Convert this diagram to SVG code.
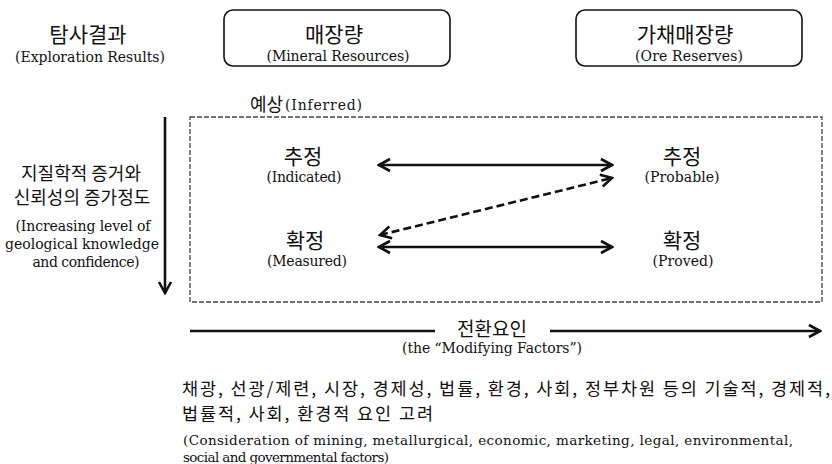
<svg xmlns="http://www.w3.org/2000/svg" width="832" height="464" viewBox="0 0 832 464">
<style>
  text { font-family: "DejaVu Serif", "Noto Sans CJK KR", serif; fill: #111; }
  .ko { font-family: "Noto Sans CJK KR", "DejaVu Serif", sans-serif; }
  .t21 { font-size: 21px; }
  .t18 { font-size: 18px; }
  .tb { font-size: 17.5px; }
  .en { font-size: 14px; }
  .en2 { font-size: 13.5px; }
  .mid { text-anchor: middle; }
  .box { fill: #fff; stroke: #111; stroke-width: 1.6; }
  .frame { fill: none; stroke: #444; stroke-width: 1.3; stroke-dasharray: 5 2; }
  .conn { stroke: #111; stroke-width: 2.6; fill: none; }
  .dash { stroke-dasharray: 8 4; }
</style>
<defs>
  <marker id="ah" viewBox="-13 -8 15 16" refX="0" refY="0" markerWidth="15" markerHeight="16" markerUnits="userSpaceOnUse" orient="auto-start-reverse">
    <path d="M-11,-6 L0,0 L-11,6" fill="none" stroke="#111" stroke-width="2.6" stroke-dasharray="none"/>
  </marker>
</defs>

<g id="n-exploration">
  <text class="ko t21 mid" x="88" y="42">탐사결과</text>
  <text class="en mid" x="90" y="62" textLength="150" lengthAdjust="spacing">(Exploration Results)</text>
</g>

<g id="n-mineral-resources">
  <rect class="box" x="224" y="10" width="226" height="56" rx="9"/>
  <text class="ko t21 mid" x="334" y="42">매장량</text>
  <text class="en mid" x="338" y="61" textLength="143" lengthAdjust="spacing">(Mineral Resources)</text>
</g>

<g id="n-ore-reserves">
  <rect class="box" x="576" y="10" width="226" height="56" rx="9"/>
  <text class="ko t21 mid" x="685" y="42">가채매장량</text>
  <text class="en mid" x="689" y="61" textLength="108" lengthAdjust="spacing">(Ore Reserves)</text>
</g>

<g id="n-inferred">
  <rect class="frame" x="190" y="117" width="632" height="185"/>
  <text class="ko t18" x="250" y="111">예상</text>
  <text class="en" x="285" y="110" textLength="77" lengthAdjust="spacing">(Inferred)</text>
</g>

<g id="n-confidence">
  <text class="ko t18 mid" x="81" y="180">지질학적 증거와</text>
  <text class="ko t18 mid" x="82" y="204">신뢰성의 증가정도</text>
  <text class="en mid" x="83" y="231" textLength="135" lengthAdjust="spacing">(Increasing level of</text>
  <text class="en mid" x="82" y="249" textLength="154" lengthAdjust="spacing">geological knowledge</text>
  <text class="en mid" x="86" y="267" textLength="107" lengthAdjust="spacing">and confidence)</text>
</g>

<g id="n-indicated">
  <text class="ko t21 mid" x="303" y="164">추정</text>
  <text class="en mid" x="304" y="182" textLength="75" lengthAdjust="spacing">(Indicated)</text>
</g>

<g id="n-measured">
  <text class="ko t21 mid" x="305" y="248">확정</text>
  <text class="en mid" x="307" y="266" textLength="80" lengthAdjust="spacing">(Measured)</text>
</g>

<g id="n-probable">
  <text class="ko t21 mid" x="682" y="164">추정</text>
  <text class="en mid" x="682" y="182" textLength="75" lengthAdjust="spacing">(Probable)</text>
</g>

<g id="n-proved">
  <text class="ko t21 mid" x="682" y="248">확정</text>
  <text class="en mid" x="683" y="266" textLength="61" lengthAdjust="spacing">(Proved)</text>
</g>

<g id="n-modifying">
  <text class="ko mid" style="font-size:19px" x="492" y="336">전환요인</text>
  <text class="en mid" x="492" y="353" textLength="180" lengthAdjust="spacing">(the “Modifying Factors”)</text>
</g>

<g id="n-consideration">
  <text class="ko tb" x="182" y="395" textLength="648" lengthAdjust="spacing">채광, 선광/제련, 시장, 경제성, 법률, 환경, 사회, 정부차원 등의 기술적, 경제적,</text>
  <text class="ko tb" x="182" y="420" textLength="251" lengthAdjust="spacing">법률적, 사회, 환경적 요인 고려</text>
  <text class="en2" x="183" y="445" textLength="610" lengthAdjust="spacing">(Consideration of mining, metallurgical, economic, marketing, legal, environmental,</text>
  <text class="en2" x="183" y="462" textLength="206" lengthAdjust="spacing">social and governmental factors)</text>
</g>

<g id="connectors">
  <line class="conn" x1="165" y1="117" x2="165" y2="293" marker-end="url(#ah)"/>
  <line class="conn" x1="379" y1="165" x2="612" y2="165" marker-start="url(#ah)" marker-end="url(#ah)"/>
  <line class="conn dash" x1="380" y1="235" x2="612" y2="178" marker-start="url(#ah)" marker-end="url(#ah)"/>
  <line class="conn" x1="379" y1="247" x2="612" y2="247" marker-start="url(#ah)" marker-end="url(#ah)"/>
  <line class="conn" x1="190" y1="331" x2="435" y2="331"/>
  <line class="conn" x1="550" y1="331" x2="820" y2="331" marker-end="url(#ah)"/>
</g>
</svg>
